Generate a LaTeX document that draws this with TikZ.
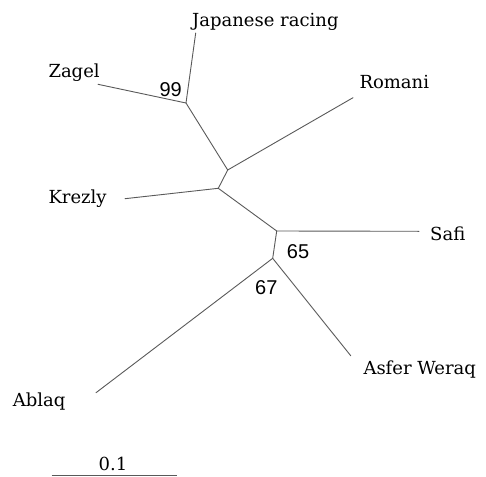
\documentclass[tikz,border=0pt]{standalone}
\usepackage{fontspec}
\setmainfont{DejaVu Serif}
\newfontfamily\numfont{Liberation Sans}
\begin{document}
\begin{tikzpicture}[x=1pt,y=-1pt,
  branch/.style={draw=black!65,line width=0.9pt,line cap=round},
  taxon/.style={anchor=base west,inner sep=0pt,font=\fontsize{18}{18}\selectfont},
  boot/.style={anchor=base west,inner sep=0pt,font=\numfont\fontsize{20}{20}\selectfont}]
\useasboundingbox (0,0) rectangle (486,476);
% internal nodes
\coordinate (n99) at (186,103);
\coordinate (nA) at (227.7,170);
\coordinate (nB) at (218.3,188.3);
\coordinate (nC) at (276.7,231);
\coordinate (nD) at (272.7,258.3);
% tips
\coordinate (tJap) at (195.7,33);
\coordinate (tZag) at (98,84.3);
\coordinate (tRom) at (353,97.7);
\coordinate (tKre) at (125,198.7);
\coordinate (tSaf) at (419,231.3);
\coordinate (tAsf) at (350.7,355.7);
\coordinate (tAbl) at (96,392.7);
% branches
\draw[branch] (n99) -- (tJap);
\draw[branch] (n99) -- (tZag);
\draw[branch] (n99) -- (nA);
\draw[branch] (nA) -- (tRom);
\draw[branch] (nA) -- (nB);
\draw[branch] (nB) -- (tKre);
\draw[branch] (nB) -- (nC);
\draw[branch] (nC) -- (tSaf);
\draw[branch] (nC) -- (nD);
\draw[branch] (nD) -- (tAsf);
\draw[branch] (nD) -- (tAbl);
% taxon labels
\node[taxon] (lJap) at (192,26.5) {Japanese racing};
\node[taxon] (lZag) at (48.3,77.3) {Zagel};
\node[taxon] (lRom) at (359.3,88.3) {Romani};
\node[taxon] (lKre) at (48.3,203.3) {Krezly};
\node[taxon] (lSaf) at (430,240.7) {Safi};
\node[taxon] (lAsf) at (363.3,374) {Asfer Weraq};
\node[taxon] (lAbl) at (12.7,406.7) {Ablaq};
% bootstrap values
\node[boot] (b99) at (159.3,96) {99};
\node[boot] (b65) at (286.7,258.3) {65};
\node[boot] (b67) at (255,294) {67};
% scale bar
\coordinate (s1) at (51.7,475);
\coordinate (s2) at (176.7,475);
\draw[branch,line cap=butt] (s1) -- (s2);
\node[anchor=base,inner sep=0pt,font=\fontsize{18}{18}\selectfont] (sl) at (113,470) {0.1};
\end{tikzpicture}
\end{document}
